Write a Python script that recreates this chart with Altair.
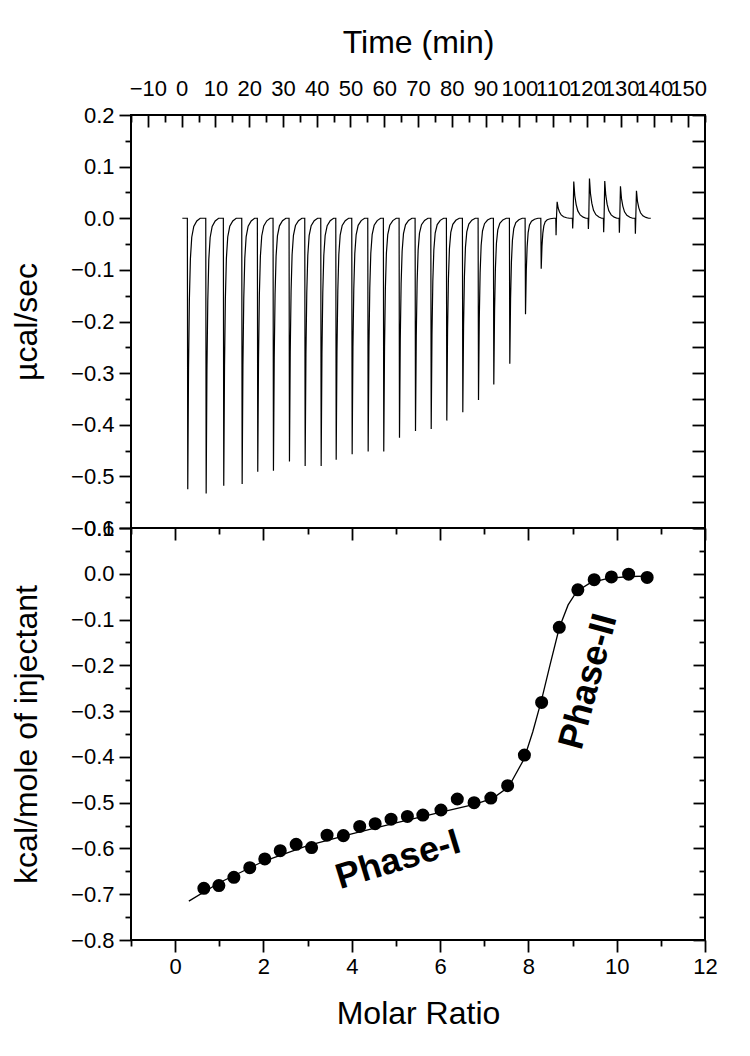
import altair as alt
import pandas as pd

# ---------------- data ----------------
# raw ITC trace (upper panel)
inj_time = [1.69, 7.14, 12.35, 17.80, 22.42, 27.07, 31.81, 36.46, 41.20, 45.65,
            50.38, 55.12, 59.74, 64.40, 69.14, 73.79, 78.41, 83.15, 87.80, 92.33,
            97.07, 101.72, 106.37, 110.81, 115.73, 120.38, 124.91, 129.56, 134.30]
peak_low = [-0.525, -0.533, -0.518, -0.515, -0.491, -0.489, -0.471, -0.480, -0.480, -0.468,
            -0.457, -0.452, -0.452, -0.425, -0.412, -0.408, -0.392, -0.376, -0.352, -0.322,
            -0.282, -0.186, -0.098, -0.033, -0.020, -0.021, -0.027, -0.028, -0.030]
peak_high = [0.0, 0.0, 0.0, 0.0, 0.0, 0.0, 0.0, 0.0, 0.0, 0.0,
             0.0, 0.0, 0.0, 0.0, 0.0, 0.0, 0.0, 0.0, 0.0, 0.0,
             0.0, 0.0, 0.0, 0.032, 0.071, 0.077, 0.072, 0.062, 0.053]
trace_start = 0.2
trace_end = 138.95
# peak profiles (minutes after injection, fraction of peak)
exo_dt = [0.0, 0.12, 0.35, 0.6, 0.9, 1.3, 1.9, 2.8, 3.8]
exo_frac = [0.0, 1.0, 0.55, 0.3, 0.15, 0.07, 0.03, 0.01, 0.0]
endo_dt = [0.0, 0.08, 0.2, 0.4, 0.7, 1.1, 1.6, 2.3, 3.2, 4.0]
endo_low = [0.0, 1.0, 0.0, 0.0, 0.0, 0.0, 0.0, 0.0, 0.0, 0.0]
endo_high = [0.0, 0.0, 0.0, 1.0, 0.62, 0.38, 0.2, 0.09, 0.03, 0.0]

# integrated heats (lower panel)
ratio = [0.65, 0.99, 1.33, 1.69, 2.03, 2.38, 2.74, 3.09, 3.44, 3.81,
         4.18, 4.53, 4.89, 5.26, 5.61, 6.02, 6.39, 6.77, 7.15, 7.53,
         7.91, 8.30, 8.70, 9.12, 9.49, 9.88, 10.27, 10.69]
heat = [-0.687, -0.681, -0.663, -0.642, -0.623, -0.605, -0.591, -0.598, -0.571, -0.572,
        -0.552, -0.546, -0.536, -0.530, -0.527, -0.516, -0.492, -0.500, -0.490, -0.463,
        -0.396, -0.281, -0.117, -0.035, -0.013, -0.007, -0.001, -0.008]
fit_x = [0.31, 1.0, 2.0, 3.0, 4.0, 5.0, 6.0, 6.8, 7.2, 7.55, 7.9, 8.1, 8.3, 8.5, 8.7,
         8.9, 9.1, 9.4, 9.8, 10.3, 10.7]
fit_y = [-0.715, -0.675, -0.628, -0.594, -0.568, -0.544, -0.521, -0.503, -0.490, -0.466,
         -0.405, -0.345, -0.275, -0.195, -0.118, -0.068, -0.038, -0.020, -0.010, -0.006, -0.005]

phase_text = ["Phase-I", "Phase-II"]
phase_x = [5.05, 9.36]
phase_y = [-0.625, -0.235]
phase_angle = [343, 285]

time_major = [-10, 0, 10, 20, 30, 40, 50, 60, 70, 80, 90, 100, 110, 120, 130, 140, 150]
time_minor = [-15, -5, 5, 15, 25, 35, 45, 55, 65, 75, 85, 95, 105, 115, 125, 135, 145, 155]
ucal_major = [-0.6, -0.5, -0.4, -0.3, -0.2, -0.1, 0.0, 0.1, 0.2]
ucal_minor = [-0.55, -0.45, -0.35, -0.25, -0.15, -0.05, 0.05, 0.15]
ucal_all = [-0.6, -0.55, -0.5, -0.45, -0.4, -0.35, -0.3, -0.25, -0.2, -0.15, -0.1,
            -0.05, 0.0, 0.05, 0.1, 0.15, 0.2]
ratio_major = [0, 2, 4, 6, 8, 10, 12]
ratio_minor = [-1, 1, 3, 5, 7, 9, 11]
kcal_major = [-0.8, -0.7, -0.6, -0.5, -0.4, -0.3, -0.2, -0.1, 0.0, 0.1]
kcal_minor = [-0.75, -0.65, -0.55, -0.45, -0.35, -0.25, -0.15, -0.05, 0.05]

# ---------------- build tables ----------------
rows = [(trace_start, 0.0)]
for t0, lo, hi in zip(inj_time, peak_low, peak_high):
    if hi > 0:
        for dt, fl, fh in zip(endo_dt, endo_low, endo_high):
            rows.append((t0 + dt, lo * fl + hi * fh))
    else:
        for dt, f in zip(exo_dt, exo_frac):
            rows.append((t0 + dt, lo * f))
rows.append((trace_end, 0.0))
trace = pd.DataFrame(rows, columns=["t", "v"])
trace["i"] = range(len(trace))

pts = pd.DataFrame({"r": ratio, "h": heat})
fit = pd.DataFrame({"r": fit_x, "h": fit_y})
lab = pd.DataFrame({"txt": phase_text, "r": phase_x, "h": phase_y, "a": phase_angle})

FONT = "Liberation Sans"
W, H1, H2 = 574, 413, 412
TICKW = 1.8
LBL = 22
TTL = 32

def ax(**kw):
    base = dict(grid=False, domain=False, tickColor="black", tickWidth=TICKW,
                labelColor="black", titleColor="black", labelFont=FONT, titleFont=FONT,
                labelFontSize=LBL, titleFontSize=TTL, titleFontWeight="normal",
                labelOverlap=False, labelFlush=False, labelBound=False)
    base.update(kw)
    return alt.Axis(**base)

xs1 = alt.Scale(domain=[-15, 155], nice=False, zero=False)
ys1 = alt.Scale(domain=[-0.6, 0.2], nice=False, zero=False)

tbase = alt.Chart(trace)
t_line = tbase.mark_line(color="black", strokeWidth=1.2).encode(
    x=alt.X("t:Q", scale=xs1, axis=ax(orient="top", values=time_major, tickSize=0,
                                        labelPadding=15, title="Time (min)", titlePadding=18)),
    y=alt.Y("v:Q", scale=ys1, axis=ax(orient="left", values=ucal_major, format=".1f",
                                        tickSize=12, labelPadding=5, title="µcal/sec",
                                        titlePadding=27)),
    order="i:Q",
)
t_ax2 = tbase.mark_line(strokeOpacity=0).encode(
    x=alt.X("t:Q", scale=xs1, axis=ax(orient="top", values=time_major, tickSize=12,
                                        offset=-12, labels=False, title=None)),
    y=alt.Y("v:Q", scale=ys1, axis=ax(orient="left", values=ucal_minor, tickSize=6,
                                        labels=False, title=None)),
    order="i:Q",
)
t_ax3 = tbase.mark_line(strokeOpacity=0).encode(
    x=alt.X("t:Q", scale=xs1, axis=ax(orient="top", values=time_minor, tickSize=7,
                                        offset=-7, labels=False, title=None)),
    y=alt.Y("v:Q", scale=ys1, axis=ax(orient="right", values=ucal_all, tickSize=13,
                                        offset=-13, labels=False, title=None)),
    order="i:Q",
)
top = alt.layer(t_line, t_ax2, t_ax3).resolve_axis(x="independent", y="independent").properties(
    width=W, height=H1)

xs2 = alt.Scale(domain=[-1, 12], nice=False, zero=False)
ys2 = alt.Scale(domain=[-0.8, 0.1], nice=False, zero=False)

b_pts = alt.Chart(pts).mark_circle(size=170, color="black", opacity=1).encode(
    x=alt.X("r:Q", scale=xs2, axis=ax(orient="bottom", values=ratio_major, tickSize=12,
                                        labelPadding=4, title="Molar Ratio", titlePadding=21)),
    y=alt.Y("h:Q", scale=ys2, axis=ax(orient="left", values=kcal_major, format=".1f",
                                        tickSize=12, labelPadding=5,
                                        title="kcal/mole of injectant", titlePadding=27)),
)
b_fit = alt.Chart(fit).mark_line(color="black", strokeWidth=1.3).encode(
    x=alt.X("r:Q", scale=xs2, axis=ax(orient="bottom", values=ratio_minor, tickSize=6,
                                        labels=False, title=None)),
    y=alt.Y("h:Q", scale=ys2, axis=ax(orient="left", values=kcal_minor, tickSize=6,
                                        labels=False, title=None)),
)
b_txt = alt.Chart(lab).mark_text(font=FONT, fontSize=36, fontWeight="bold", color="black",
                                 align="center", baseline="middle").encode(
    x=alt.X("r:Q", scale=xs2, axis=ax(orient="top", values=ratio_major, tickSize=12,
                                        offset=-12, labels=False, title=None)),
    y=alt.Y("h:Q", scale=ys2, axis=ax(orient="right", values=kcal_major, tickSize=12,
                                        offset=-12, labels=False, title=None)),
    text="txt:N",
    angle=alt.Angle("a:Q", scale=None),
)
b_ax4 = alt.Chart(pts).mark_point(opacity=0).encode(
    x=alt.X("r:Q", scale=xs2, axis=ax(orient="top", values=ratio_minor, tickSize=6,
                                        offset=-6, labels=False, title=None)),
    y=alt.Y("h:Q", scale=ys2, axis=ax(orient="right", values=kcal_minor, tickSize=6,
                                        offset=-6, labels=False, title=None)),
)
bottom = alt.layer(b_fit, b_pts, b_txt, b_ax4).resolve_axis(
    x="independent", y="independent").properties(width=W, height=H2)

chart = alt.vconcat(top, bottom, spacing=0, bounds="flush").properties(
    padding={"left": 1, "top": 17, "right": 5, "bottom": 5},
    background="white",
).configure_view(stroke="black", strokeWidth=2)

chart.save("out.html", embed_options={"renderer": "svg", "actions": False})
